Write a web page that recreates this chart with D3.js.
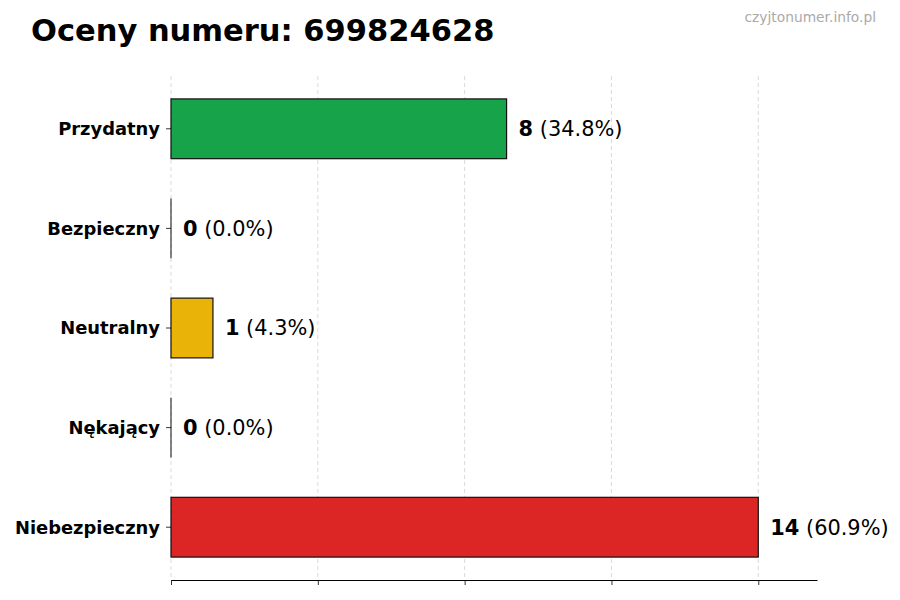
<!DOCTYPE html>
<html><head><meta charset="utf-8">
<script src="https://cdn.jsdelivr.net/npm/d3@7"></script>
<style>body{margin:0;background:#fff}svg{display:block}text{font-family:"DejaVu Sans",sans-serif}</style>
</head><body>
<svg id="c" width="900" height="600"></svg>
<script>
const categories = ["Niebezpieczny","Nękający","Neutralny","Bezpieczny","Przydatny"];
const values = [14, 0, 1, 0, 8];
const percents = ["60.9%","0.0%","4.3%","0.0%","34.8%"];
const colors = ["#dc2626","#475569","#eab308","#64748b","#16a34a"];
const xTicks = [0, 3.5, 7, 10.5, 14];
const title = "Oceny numeru: 699824628";
const watermark = "czyjtonumer.info.pl";

(function () {
const svg = d3.select("#c");
const pl = 171, pr = 817, pt = 76, pb = 580;
const x = d3.scaleLinear().domain([0, 15.4]).range([pl, pr]);
const y = d3.scaleLinear().domain([-0.53, 4.53]).range([pb, pt]);
const bh = y(0) - y(0.6);

// grid
svg.append("g").selectAll("line").data(xTicks).join("line")
  .attr("x1", d => x(d)).attr("x2", d => x(d)).attr("y1", pt).attr("y2", pb)
  .attr("stroke", "#d0d0d0").attr("stroke-width", 0.8).attr("stroke-dasharray", "4,3");

// bars
svg.append("g").selectAll("rect").data(values).join("rect")
  .attr("x", x(0)).attr("y", (d, i) => y(i) - bh / 2)
  .attr("width", d => x(d) - x(0)).attr("height", bh)
  .attr("fill", (d, i) => colors[i]).attr("stroke", "#111").attr("stroke-width", 1.2);

// zero-width bars: edge only
svg.append("g").selectAll("line").data(values.map((v, i) => ({v, i})).filter(d => d.v === 0)).join("line")
  .attr("x1", x(0)).attr("x2", x(0)).attr("y1", d => y(d.i) - bh / 2).attr("y2", d => y(d.i) + bh / 2)
  .attr("stroke", "#333").attr("stroke-width", 1.2);

// value labels
const lab = svg.append("g").selectAll("text").data(values).join("text")
  .attr("x", d => x(d) + 12).attr("y", (d, i) => y(i)).attr("dy", "0.35em")
  .attr("font-size", 20.9).attr("fill", "#000");
lab.append("tspan").attr("font-weight", "bold").text(d => d);
lab.append("tspan").text((d, i) => " (" + percents[i] + ")");

// y axis tick labels
const ya = svg.append("g");
categories.forEach((c, i) => {
  ya.append("line").attr("x1", pl - 5).attr("x2", pl).attr("y1", y(i)).attr("y2", y(i)).attr("stroke", "#000").attr("stroke-width", 0.8);
  ya.append("text").attr("x", pl - 11).attr("y", y(i)).attr("dy", "0.36em").attr("text-anchor", "end")
    .attr("font-size", 17.9).attr("font-weight", "bold").text(c);
});

// x axis
const xa = svg.append("g").attr("transform", `translate(0,${pb})`)
  .call(d3.axisBottom(x).tickValues(xTicks).tickFormat("").tickSize(5).tickSizeOuter(0));
xa.select(".domain").attr("stroke-width", 1);
xa.selectAll(".tick line").attr("stroke-width", 0.8);

svg.append("text").attr("x", 31).attr("y", 41).attr("font-size", 30.5).attr("font-weight", "bold").text(title);
svg.append("text").attr("x", 876).attr("y", 22).attr("text-anchor", "end").attr("font-size", 13.8).attr("fill", "#aaa").text(watermark);
})();
</script>
</body></html>
